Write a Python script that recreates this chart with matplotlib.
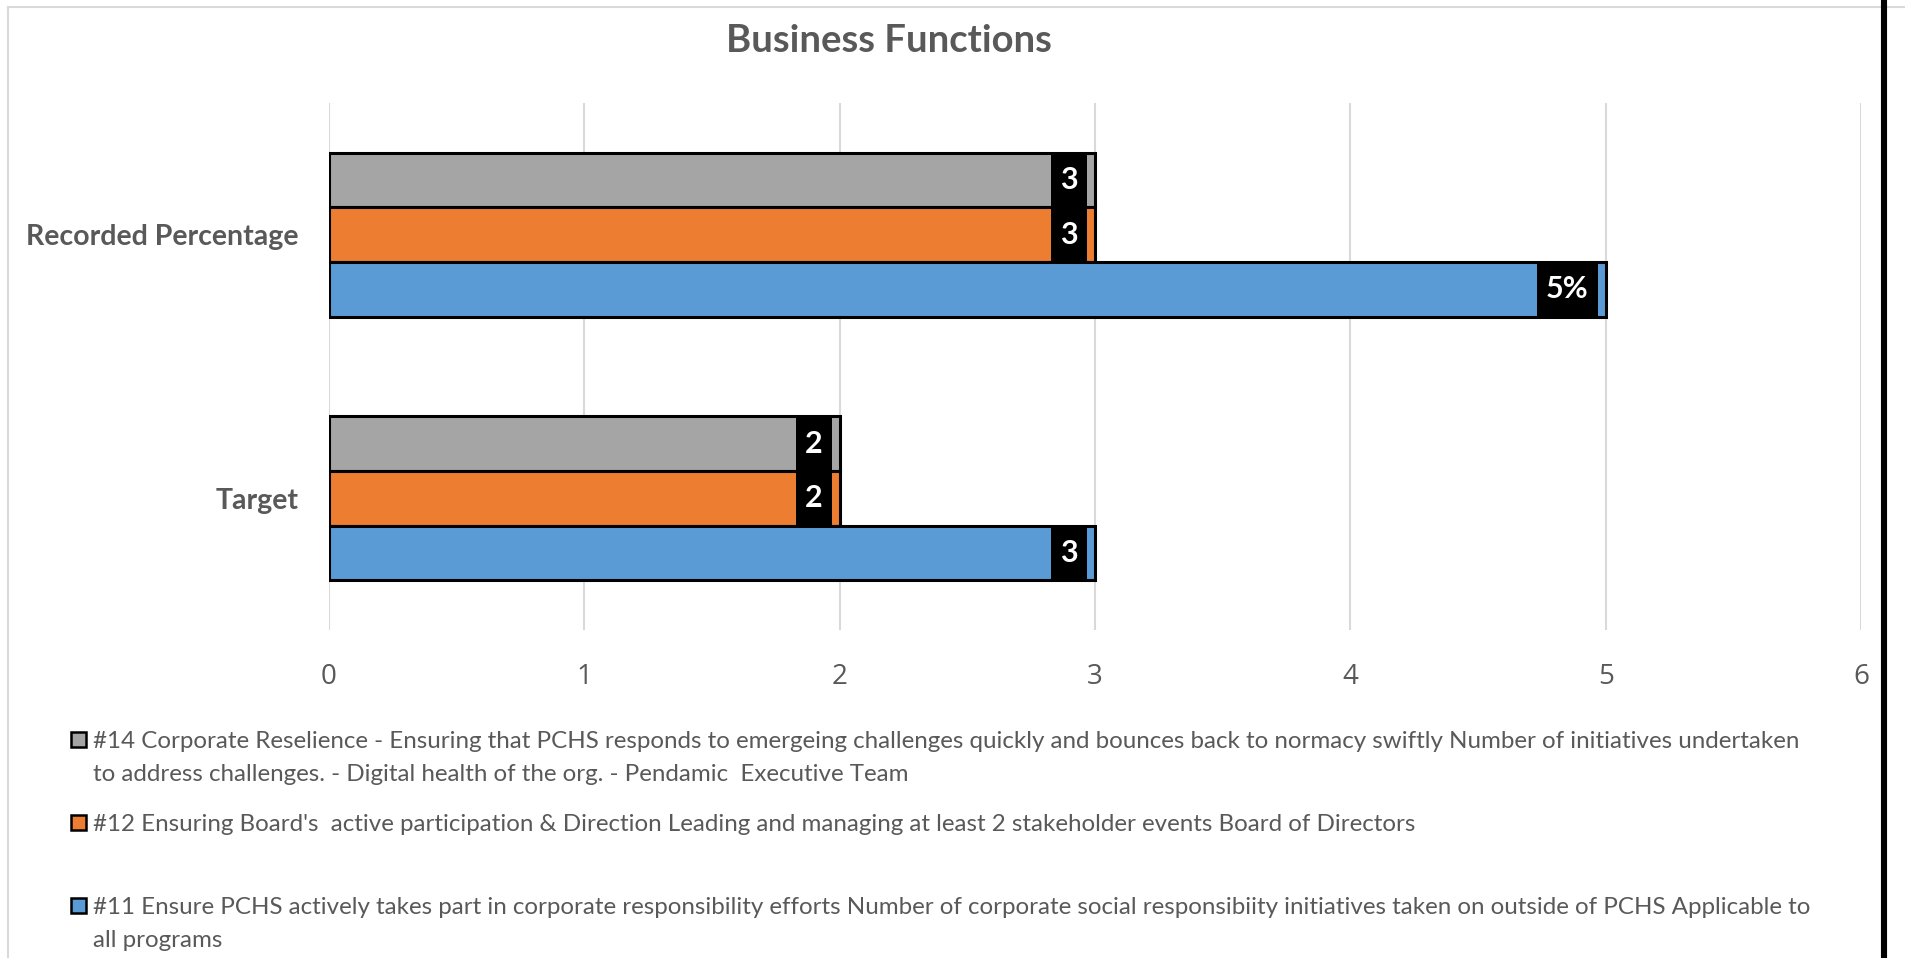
import matplotlib
matplotlib.use("Agg")
import matplotlib.pyplot as plt
from matplotlib.lines import Line2D
from matplotlib.patches import Rectangle
from matplotlib.transforms import ScaledTranslation

# data
categories = ["Recorded Percentage", "Target"]
values_14 = [3, 2]
values_12 = [3, 2]
values_11 = [5, 3]
label_fmt_11 = ["{:g}%", "{:g}"]
colors = ["#A5A5A5", "#ED7D31", "#5B9BD5"]
x_ticks = [0, 1, 2, 3, 4, 5, 6]
title = "Business Functions"
legend_lines = [
    ["#14 Corporate Reselience - Ensuring that PCHS responds to emergeing challenges quickly and bounces back to normacy swiftly Number of initiatives undertaken",
     "to address challenges. - Digital health of the org. - Pendamic  Executive Team"],
    ["#12 Ensuring Board's  active participation & Direction Leading and managing at least 2 stakeholder events Board of Directors"],
    ["#11 Ensure PCHS actively takes part in corporate responsibility efforts Number of corporate social responsibiity initiatives taken on outside of PCHS Applicable to",
     "all programs"],
]

W, H = 1906, 958
DPI = 100
TXT = "#595959"
FONT = ["Lato", "DejaVu Sans"]


def fx(px):
    return px / W


def fy(py):
    return 1 - py / H


fig = plt.figure(figsize=(W / DPI, H / DPI), dpi=DPI)
fig.patch.set_facecolor("white")

# chart frame (light gray) and the black rule on the right
fig.add_artist(Line2D([fx(8), fx(8)], [fy(7), 0], color="#d9d9d9", lw=1.5))
fig.add_artist(Line2D([fx(8), 1], [fy(7), fy(7)], color="#d9d9d9", lw=1.5))
fig.add_artist(Line2D([fx(1884), fx(1884)], [0, 1], color="black", lw=4.4))

ax = fig.add_axes([fx(329), fy(630), fx(1861) - fx(329), (630 - 103) / H])

h = 0.207
ypos = list(range(len(categories)))
series = [values_14, values_12, values_11]
offsets = [-h, 0, h]
for vals, off, col in zip(series, offsets, colors):
    ax.barh([y + off for y in ypos], vals, height=h, color=col,
            edgecolor="black", linewidth=2.2, zorder=3)

ax.set_xlim(0, 6)
ax.set_ylim(1.5, -0.5)
ax.set_xticks(x_ticks)
ax.set_xticklabels([str(t) for t in x_ticks], family=["Open Sans", "DejaVu Sans"],
                   fontsize=20, color=TXT)
ax.set_yticks(ypos)
ax.set_yticklabels(categories, family=FONT, fontweight="bold", fontsize=20.5, color=TXT)
ax.tick_params(axis="x", length=0, pad=24)
ax.tick_params(axis="y", length=0, pad=21.6)
for s in ax.spines.values():
    s.set_visible(False)
ax.grid(axis="x", color="#d9d9d9", lw=1.5, zorder=0)
ax.set_axisbelow(True)

fig.text(fx(889), fy(41), title, ha="center", va="center", family=FONT,
         fontweight="bold", fontsize=27.5, color=TXT)

# data labels: white bold text on a black box at the inside end of each bar
fmts = [["{:g}", "{:g}"], ["{:g}", "{:g}"], label_fmt_11]
texts = []
for vals, off, fm in zip(series, offsets, fmts):
    for y, v, f in zip(ypos, vals, fm):
        tr = ax.transData + ScaledTranslation(-17 / DPI, 0, fig.dpi_scale_trans)
        t = ax.text(v, y + off, f.format(v), transform=tr, ha="right", va="center",
                    family=FONT, fontweight="bold", fontsize=22, color="white", zorder=6)
        texts.append((t, y + off))

fig.canvas.draw()
r = fig.canvas.get_renderer()
inv = ax.transData.inverted()
for t, yc in texts:
    bb = t.get_window_extent(r)
    x0 = inv.transform((bb.x0 - 9, 0))[0]
    x1 = inv.transform((bb.x1 + 9, 0))[0]
    ax.add_patch(Rectangle((x0, yc - h / 2), x1 - x0, h, facecolor="black",
                           edgecolor="none", zorder=5))

# legend drawn as stacked wrapped entries
baselines = [[748, 781], [831], [914, 947]]
for lines, bls, col in zip(legend_lines, baselines, colors):
    sq = Rectangle((fx(71), fy(bls[0] - 1)), 15 / W, 15 / H, transform=fig.transFigure,
                   facecolor=col, edgecolor="black", lw=1.8)
    fig.add_artist(sq)
    for line, bl in zip(lines, bls):
        fig.text(fx(93), fy(bl), line, ha="left", va="baseline", family=FONT,
                 fontsize=17.4, color=TXT)

fig.savefig("out.png", dpi=DPI)
